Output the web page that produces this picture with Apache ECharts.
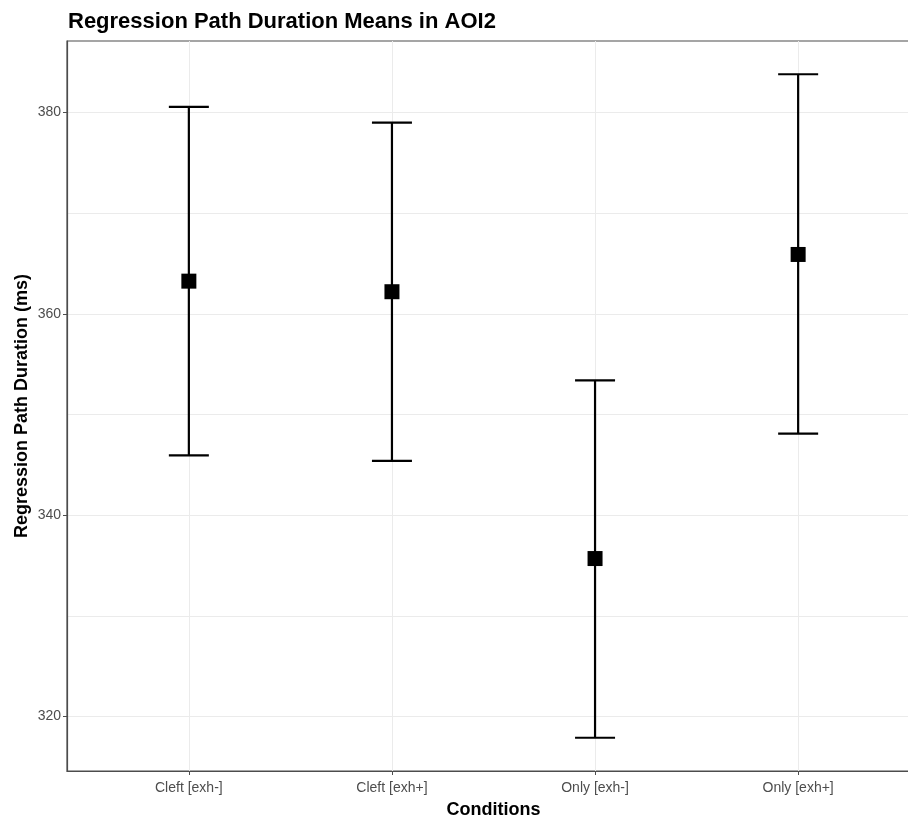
<!DOCTYPE html>
<html>
<head>
<meta charset="utf-8">
<script src="https://cdn.jsdelivr.net/npm/echarts@6/dist/echarts.min.js"></script>
<style>
html, body { margin: 0; padding: 0; background: #fff; }
#main { width: 908px; height: 821px; }
</style>
</head>
<body>
<div id="main"></div>
<script>
const categories = ['Cleft [exh-]', 'Cleft [exh+]', 'Only [exh-]', 'Only [exh+]'];
const means = [363.25, 362.2, 335.7, 365.9];
const lower = [345.95, 345.4, 317.9, 348.1];
const upper = [380.55, 379.0, 353.4, 383.8];
const yMajor = [320, 340, 360, 380];
const yMinor = [330, 350, 370];

const positions = categories.map((c, i) => i + 1);
const barData = positions.map((x, i) => [x, lower[i], upper[i]]);
const meanData = positions.map((x, i) => [x, means[i]]);

const font = 'Liberation Sans, Arial, sans-serif';
const chart = echarts.init(document.getElementById('main'));

const option = {
    animation: false,
    title: {
        text: 'Regression Path Duration Means in AOI2',
        left: 63,
        top: 6,
        textStyle: { fontFamily: font, fontSize: 22, fontWeight: 'bold', color: '#000' }
    },
    grid: {
        left: 67, top: 41, width: 853, height: 730,
        outerBoundsMode: 'none',
        containLabel: false,
        show: true, borderColor: '#4d4d4d', borderWidth: 1.2
    },
    xAxis: {
        type: 'value',
        min: 0.4,
        max: 4.6,
        name: 'Conditions',
        nameLocation: 'middle',
        nameGap: 30,
        nameTextStyle: { fontFamily: font, fontSize: 18, fontWeight: 'bold', color: '#000' },
        axisLine: { show: true, lineStyle: { color: '#4d4d4d', width: 1.2 } },
        axisTick: { show: true, length: 4, customValues: positions, lineStyle: { color: '#4d4d4d' } },
        axisLabel: {
            customValues: positions,
            formatter: v => categories[Math.round(v) - 1],
            fontFamily: font, fontSize: 14, color: '#4d4d4d', margin: 10
        },
        splitLine: { show: true, lineStyle: { color: '#ebebeb', width: 1 } }
    },
    yAxis: [{
        type: 'value',
        min: 314.6,
        max: 387.1,
        name: 'Regression Path Duration (ms)',
        nameLocation: 'middle',
        nameGap: 36,
        nameMoveOverlap: false,
        nameTextStyle: { fontFamily: font, fontSize: 18, fontWeight: 'bold', color: '#000' },
        axisLine: { show: true, lineStyle: { color: '#4d4d4d', width: 1.2 } },
        axisTick: { show: true, length: 4, customValues: yMajor, lineStyle: { color: '#4d4d4d' } },
        axisLabel: { customValues: yMajor, fontFamily: font, fontSize: 14, color: '#4d4d4d', margin: 6 },
        splitLine: { show: true, lineStyle: { color: '#ebebeb', width: 1 } }
    }, {
        type: 'value',
        position: 'left',
        min: 314.6,
        max: 387.1,
        axisLine: { show: false },
        axisTick: { show: false, customValues: yMinor },
        axisLabel: { show: false, customValues: yMinor },
        splitLine: { show: true, lineStyle: { color: '#ebebeb', width: 1 } }
    }],
    series: [
        {
            type: 'custom',
            data: barData,
            renderItem: function (params, api) {
                const x = api.value(0);
                const lo = api.coord([x, api.value(1)]);
                const hi = api.coord([x, api.value(2)]);
                const half = 20;
                const style = { stroke: '#000', lineWidth: 2.2 };
                return {
                    type: 'group',
                    children: [
                        { type: 'line', shape: { x1: lo[0], y1: lo[1], x2: hi[0], y2: hi[1] }, style: style },
                        { type: 'line', shape: { x1: lo[0] - half, y1: lo[1], x2: lo[0] + half, y2: lo[1] }, style: style },
                        { type: 'line', shape: { x1: hi[0] - half, y1: hi[1], x2: hi[0] + half, y2: hi[1] }, style: style }
                    ]
                };
            },
            z: 2
        },
        {
            type: 'scatter',
            data: meanData,
            symbol: 'rect',
            symbolSize: 15,
            itemStyle: { color: '#000', opacity: 1 },
            z: 3
        }
    ]
};

chart.setOption(option);
window.addEventListener('resize', function () {
    chart.resize();
});
</script>
</body>
</html>
